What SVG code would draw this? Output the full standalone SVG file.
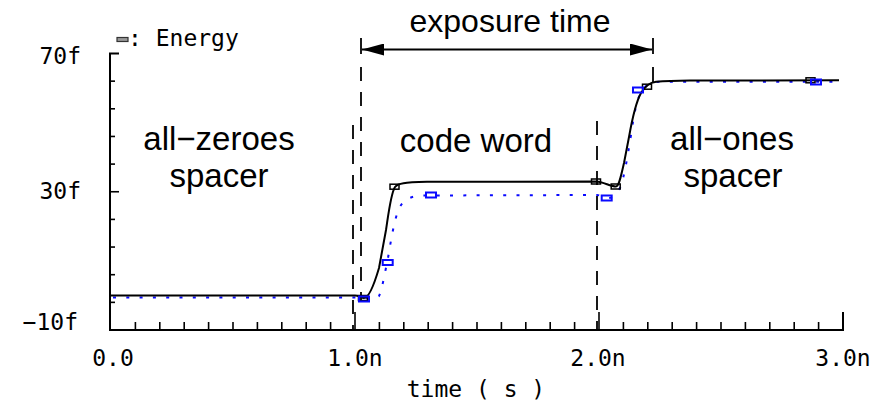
<svg xmlns="http://www.w3.org/2000/svg" width="885" height="407" viewBox="0 0 885 407">
  <style>
    .axis { stroke: #000; stroke-width: 2; fill: none; }
    .tick { stroke: #000; stroke-width: 1.6; }
    .lbl { font-family: "DejaVu Sans Mono", "Liberation Mono", monospace; font-size: 23px; fill: #000; }
    .note { font-family: "Liberation Sans", Arial, Helvetica, sans-serif; font-size: 33px; fill: #000; text-anchor: middle; }
    .guide { stroke: #000; stroke-width: 1.8; stroke-dasharray: 14 11; fill: none; }
    .bar { stroke: #000; stroke-width: 1.8; }
    .sim { stroke: #000; stroke-width: 2; fill: none; }
    .ref { stroke: #0a0aff; stroke-width: 2; stroke-dasharray: 3 10.3; fill: none; }
    .mk-k { stroke: #000; stroke-width: 1.5; fill: none; }
    .mk-b { stroke: #0a0aff; stroke-width: 2; fill: none; }
  </style>
  <defs>
    <marker id="head" viewBox="0 0 22 12" refX="22" refY="6" markerWidth="22" markerHeight="12" markerUnits="userSpaceOnUse" orient="auto-start-reverse">
      <path d="M0,0 L22,6 L0,12 Z" fill="#000"/>
    </marker>
    <rect id="mk" x="-4.5" y="-2.5" width="9" height="5"/>
    <rect id="mkb" x="-5" y="-2.5" width="10" height="5"/>
  </defs>
  <rect width="885" height="407" fill="#fff"/>

  <!-- axes with ticks -->
  <g id="axes">
    <path class="axis" d="M119,53.5 H110 V330 H843 V312"/>
    <g class="tick">
      <!-- y ticks: 8f steps -->
      <line x1="110" y1="81.15" x2="115" y2="81.15"/>
      <line x1="110" y1="108.8" x2="115" y2="108.8"/>
      <line x1="110" y1="136.45" x2="115" y2="136.45"/>
      <line x1="110" y1="164.1" x2="115" y2="164.1"/>
      <line x1="110" y1="191.75" x2="119" y2="191.75"/>
      <line x1="110" y1="219.4" x2="115" y2="219.4"/>
      <line x1="110" y1="247.05" x2="115" y2="247.05"/>
      <line x1="110" y1="274.7" x2="115" y2="274.7"/>
      <line x1="110" y1="302.35" x2="115" y2="302.35"/>
      <!-- x ticks: 0.1n steps -->
      <line x1="135.4" y1="330" x2="135.4" y2="322"/>
      <line x1="159.8" y1="330" x2="159.8" y2="322"/>
      <line x1="184.2" y1="330" x2="184.2" y2="322"/>
      <line x1="208.6" y1="330" x2="208.6" y2="322"/>
      <line x1="233" y1="330" x2="233" y2="322"/>
      <line x1="257.4" y1="330" x2="257.4" y2="322"/>
      <line x1="281.8" y1="330" x2="281.8" y2="322"/>
      <line x1="306.2" y1="330" x2="306.2" y2="322"/>
      <line x1="330.6" y1="330" x2="330.6" y2="322"/>
      <line x1="355" y1="330" x2="355" y2="312"/>
      <line x1="379.4" y1="330" x2="379.4" y2="322"/>
      <line x1="403.8" y1="330" x2="403.8" y2="322"/>
      <line x1="428.2" y1="330" x2="428.2" y2="322"/>
      <line x1="452.6" y1="330" x2="452.6" y2="322"/>
      <line x1="477" y1="330" x2="477" y2="322"/>
      <line x1="501.4" y1="330" x2="501.4" y2="322"/>
      <line x1="525.8" y1="330" x2="525.8" y2="322"/>
      <line x1="550.2" y1="330" x2="550.2" y2="322"/>
      <line x1="574.6" y1="330" x2="574.6" y2="322"/>
      <line x1="599" y1="330" x2="599" y2="312"/>
      <line x1="623.4" y1="330" x2="623.4" y2="322"/>
      <line x1="647.8" y1="330" x2="647.8" y2="322"/>
      <line x1="672.2" y1="330" x2="672.2" y2="322"/>
      <line x1="696.6" y1="330" x2="696.6" y2="322"/>
      <line x1="721" y1="330" x2="721" y2="322"/>
      <line x1="745.4" y1="330" x2="745.4" y2="322"/>
      <line x1="769.8" y1="330" x2="769.8" y2="322"/>
      <line x1="794.2" y1="330" x2="794.2" y2="322"/>
      <line x1="818.6" y1="330" x2="818.6" y2="322"/>
    </g>
    <g class="lbl">
      <text x="81" y="64" text-anchor="end">70f</text>
      <text x="81" y="199" text-anchor="end">30f</text>
      <text x="78" y="330" text-anchor="end">−10f</text>
      <text x="113" y="366" text-anchor="middle">0.0</text>
      <text x="355" y="366" text-anchor="middle">1.0n</text>
      <text x="598" y="366" text-anchor="middle">2.0n</text>
      <text x="843" y="366" text-anchor="middle">3.0n</text>
      <text x="476" y="397" text-anchor="middle">time ( s )</text>
    </g>
  </g>

  <!-- legend -->
  <g id="legend">
    <rect x="117" y="37.5" width="11" height="4" fill="#999" stroke="#333" stroke-width="1.2"/>
    <text class="lbl" x="128" y="46">: Energy</text>
  </g>

  <!-- phase boundaries -->
  <g id="guides">
    <line class="guide" x1="353" y1="125" x2="353" y2="330"/>
    <line class="guide" x1="361" y1="67" x2="361" y2="300"/>
    <line class="guide" x1="597" y1="121" x2="597" y2="330"/>
    <line class="bar" x1="653" y1="67" x2="653" y2="82"/>
  </g>

  <!-- exposure time span -->
  <g id="exposure">
    <line class="bar" x1="361" y1="38" x2="361" y2="54"/>
    <line class="bar" x1="653" y1="38" x2="653" y2="54"/>
    <line x1="362" y1="49.5" x2="652" y2="49.5" stroke="#000" stroke-width="2" marker-start="url(#head)" marker-end="url(#head)"/>
    <text class="note" x="510" y="32" style="font-size:32px">exposure time</text>
  </g>

  <!-- waveforms -->
  <g id="curves">
    <path class="ref" d="M113,297.5 L362,297.5 C368,298.5 375,299.5 379,296 C382,290 385,272 388,258 C391,240 394,222 398,211 C402,201 408,197 420,195.5 L597,195 C600,195 603,197.5 607,198 C612,198.5 616,195 620,188 C624,178 627,160 631,135 C634,114 637,97 643,89 C648,83 652,82 660,81.8 L841,81.7"/>
    <path class="sim" d="M111,295.5 L355,295.5 C359,295.5 361,298 364,298 C369,298 374,285 379,268 L386,230 C389,210 391,193 395,187 C398,183 404,182.5 427,181.8 L596,181.5 C604,182 610,186.5 616,186.5 C619,186.5 621,176 624,163 L629,137 C632,120 636,102 641,93 C645,86 650,82.5 656,81.7 C665,81 672,80.7 690,80.5 L839,80.3"/>
  </g>

  <!-- sample markers -->
  <g id="markers">
    <g class="mk-k">
      <use href="#mk" x="363" y="298"/>
      <use href="#mk" x="394.5" y="186.7"/>
      <use href="#mk" x="596" y="181.5"/>
      <use href="#mk" x="615.7" y="186.5"/>
      <use href="#mk" x="647" y="86.7"/>
      <use href="#mk" x="810.5" y="80.3"/>
    </g>
    <g class="mk-b">
      <use href="#mkb" x="364" y="299"/>
      <use href="#mkb" x="387.7" y="262.5"/>
      <use href="#mkb" x="431" y="195"/>
      <use href="#mkb" x="606.7" y="198"/>
      <use href="#mkb" x="638" y="90"/>
      <use href="#mkb" x="816" y="82"/>
    </g>
  </g>

  <!-- phase names -->
  <g id="phases">
    <text class="note" x="219" y="150">all−zeroes</text>
    <text class="note" x="219" y="187">spacer</text>
    <text class="note" x="476" y="152">code word</text>
    <text class="note" x="732" y="150">all−ones</text>
    <text class="note" x="733" y="187">spacer</text>
  </g>
</svg>
